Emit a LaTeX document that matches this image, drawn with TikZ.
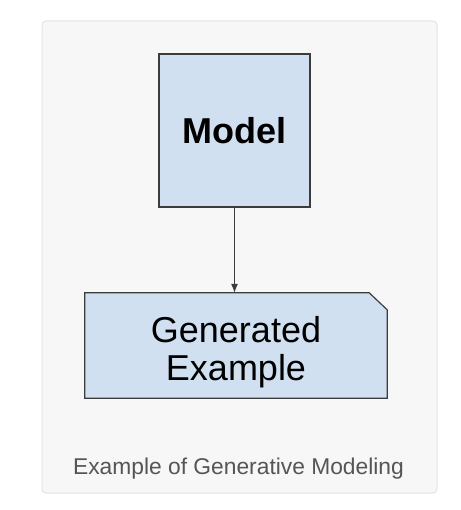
\documentclass[tikz,border=0pt]{standalone}
\usepackage{fontspec}
\setmainfont{Liberation Sans}
\usetikzlibrary{arrows.meta}

\definecolor{boxblue}{RGB}{208,224,241}
\definecolor{boxline}{RGB}{60,60,60}
\definecolor{panel}{RGB}{247,247,247}
\definecolor{panelline}{RGB}{226,226,226}
\definecolor{capgray}{RGB}{85,85,85}

\begin{document}
\begin{tikzpicture}[x=1pt,y=-1pt,
  block/.style={draw=boxline,fill=boxblue,line width=1.2pt,inner sep=0pt}]
\useasboundingbox (0,0) rectangle (460,510);
\draw[panelline,fill=panel,line width=1pt,rounded corners=4pt] (42,21) rectangle (437,493);

\node[block,minimum width=151,minimum height=153,font=\fontsize{36}{38}\selectfont\bfseries](model) at (234.5,130.5) {Model};

% card with clipped top right corner
\node[minimum width=302,minimum height=105,inner sep=0pt](gen) at (236,345.5) {};
\draw[block] (gen.south west) -- (gen.north west) -- ([xshift=-18]gen.north east)
  -- ([yshift=-17]gen.north east) -- (gen.south east) -- cycle;
\node[align=center,font=\fontsize{36}{38}\selectfont](gentext) at ([yshift=-7]gen.center) {Generated\\Example};

\draw[-{Latex[length=9pt,width=7pt]},line width=1pt,boxline] (model.south) -- (model.south |- gen.north);

\node[anchor=base,text=capgray,font=\fontsize{22.8}{26}\selectfont](cap) at (238.5,474) {Example of Generative Modeling};

\end{tikzpicture}
\end{document}
